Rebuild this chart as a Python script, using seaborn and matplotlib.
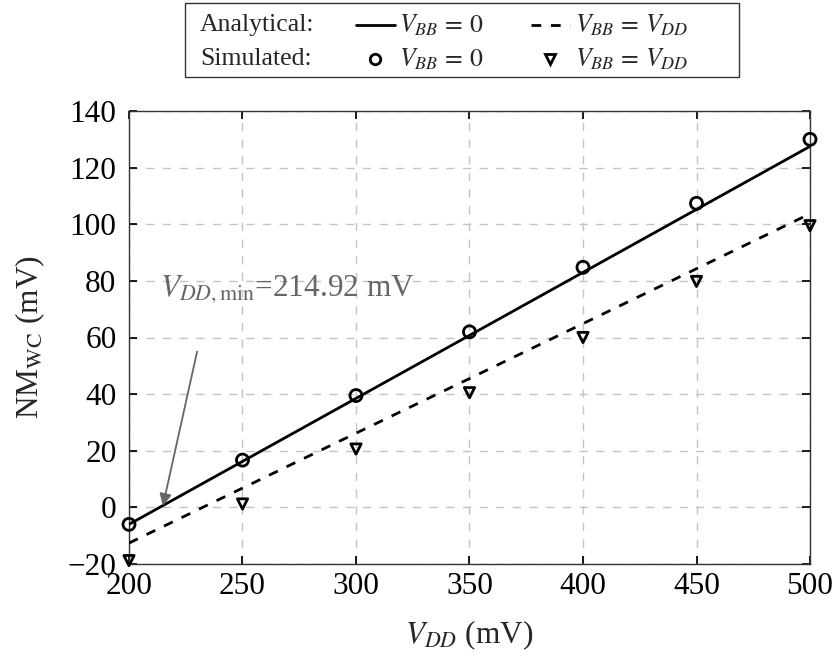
import numpy as np
import pandas as pd
import matplotlib
matplotlib.use("Agg")
import matplotlib.pyplot as plt
import seaborn as sns
from matplotlib.lines import Line2D
from matplotlib.patches import Rectangle

# ---- data ----
vdd = [200, 250, 300, 350, 400, 450, 500]
analytic_vbb0 = [-6.0, 16.25, 38.5, 60.75, 83.0, 105.25, 127.5]
analytic_vbbvdd = [-12.6, 6.8, 26.2, 45.5, 64.9, 84.3, 103.7]
sim_vbb0 = [-6.0, 16.7, 39.5, 62.0, 84.8, 107.4, 130.0]
sim_vbbvdd = [-18.8, 1.2, 20.6, 40.5, 60.0, 79.8, 99.5]
xticks = [200, 250, 300, 350, 400, 450, 500]
yticks = [-20, 0, 20, 40, 60, 80, 100, 120, 140]
vdd_min = 214.92

sns.set_theme(style="ticks")
plt.rcParams['font.family'] = ['Liberation Serif', 'DejaVu Serif']
plt.rcParams['mathtext.fontset'] = 'stix'

W, H = 835, 657
fig = plt.figure(figsize=(W / 100, H / 100), dpi=100)
ax = fig.add_axes([129 / W, 1 - 564 / H, (810 - 129) / W, (564 - 111) / H])

df = pd.DataFrame({"vdd": vdd, "a0": analytic_vbb0, "a1": analytic_vbbvdd,
                   "s0": sim_vbb0, "s1": sim_vbbvdd})

DASH = (0, (3.5, 3.5))
sns.lineplot(data=df, x="vdd", y="a0", ax=ax, color="black", lw=2.0, zorder=3)
sns.lineplot(data=df, x="vdd", y="a1", ax=ax, color="black", lw=2.0, zorder=3,
             linestyle=DASH)
ax.scatter(df["vdd"], df["s0"], marker="o", s=75, facecolors="none",
           edgecolors="black", linewidths=2.0, zorder=4, clip_on=False)
ax.scatter(df["vdd"], df["s1"], marker="v", s=55, facecolors="none",
           edgecolors="black", linewidths=2.0, zorder=4, clip_on=False)

ax.set_xlim(200, 500)
ax.set_ylim(-20, 140)
ax.set_xticks(xticks)
ax.set_yticks(yticks)
ax.set_yticklabels([("\u2212%d" % -t) if t < 0 else str(t) for t in yticks])
ax.grid(True, color="#c4c4c4", linestyle=(0, (6, 6)), linewidth=1.0)
ax.set_axisbelow(True)
ax.tick_params(direction="in", length=6, labelsize=22.5, colors="black",
               top=True, right=True)
ax.tick_params(axis="y", pad=9)
ax.tick_params(axis="x", pad=6)
for s in ax.spines.values():
    s.set_color("#333333")
    s.set_linewidth(1.0)

ax.set_xlabel("$V_{DD}$ (mV)", fontsize=22.5, labelpad=12)
ax.set_ylabel("NM$_{\\mathrm{WC}}$ (mV)", fontsize=22.5, labelpad=15)

ax.text(213.5, 77, "$V_{DD,\\mathrm{min}}$=214.92 mV", color="#666666",
        fontsize=22.5, ha="left", va="center")
ax.annotate("", xy=(vdd_min, 0.5), xytext=(230, 55),
            arrowprops=dict(arrowstyle="-|>", color="#666666", lw=1.3,
                            shrinkA=0, shrinkB=0, mutation_scale=18))

# ---- legend box (figure coordinates from pixel layout) ----
def fx(px):
    return px / W

def fy(py):
    return 1 - py / H

fig.patches.append(Rectangle((fx(185), fy(77)), fx(739) - fx(185), (77 - 3) / H,
                             transform=fig.transFigure, facecolor="white",
                             edgecolor="#333333", lw=1.0))
LFS = 18.5
r1, r2 = 25, 59
fig.text(fx(200), fy(r1), "Analytical:", fontsize=LFS, va="center", ha="left")
fig.text(fx(200), fy(r2), "Simulated:", fontsize=LFS, va="center", ha="left")
fig.add_artist(Line2D([fx(356), fx(395)], [fy(r1), fy(r1)], transform=fig.transFigure,
                      color="black", lw=2.0))
fig.add_artist(Line2D([fx(531), fx(570)], [fy(r1), fy(r1)], transform=fig.transFigure,
                      color="black", lw=2.0, linestyle=DASH))
fig.add_artist(Line2D([fx(375)], [fy(r2)], transform=fig.transFigure, marker="o",
                      markersize=7.5, mfc="none", mec="black", mew=2.0))
fig.add_artist(Line2D([fx(550)], [fy(r2)], transform=fig.transFigure, marker="v",
                      markersize=7, mfc="none", mec="black", mew=2.0))
for px, py, t in [(399, r1, "$V_{BB}\\,=\\,0$"), (399, r2, "$V_{BB}\\,=\\,0$"),
                  (575, r1, "$V_{BB}\\,=\\,V_{DD}$"), (575, r2, "$V_{BB}\\,=\\,V_{DD}$")]:
    fig.text(fx(px), fy(py), t, fontsize=LFS, va="center", ha="left")

fig.savefig("out.png", dpi=100)
